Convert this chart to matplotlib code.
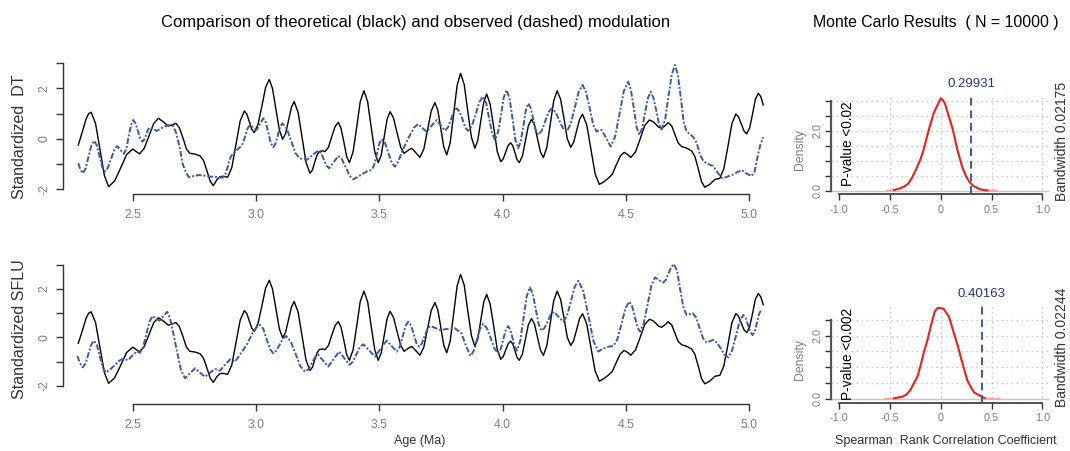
import numpy as np
import matplotlib
matplotlib.use("Agg")
import matplotlib.pyplot as plt

plt.rcParams["font.family"] = ["Liberation Sans", "DejaVu Sans"]

# theoretical modulation (black), same in both panels -- (age Ma, standardized value)
theo = [
    (2.278, -0.24), (2.295, 0.30), (2.310, 0.80), (2.320, 1.00), (2.330, 1.06),
    (2.348, 0.62), (2.366, -0.42), (2.384, -1.45), (2.401, -1.89),
    (2.425, -1.67), (2.450, -1.15), (2.474, -0.62), (2.499, -0.40), (2.526, -0.59),
    (2.545, -0.38), (2.565, 0.12), (2.584, 0.61), (2.603, 0.82), (2.623, 0.68),
    (2.643, 0.51), (2.658, 0.55), (2.674, 0.62), (2.688, 0.45), (2.703, 0.03),
    (2.717, -0.40), (2.731, -0.57), (2.752, -0.60), (2.772, -0.67), (2.786, -0.85),
    (2.800, -1.26), (2.813, -1.67), (2.826, -1.85), (2.840, -1.62), (2.853, -1.49),
    (2.868, -1.48), (2.884, -1.52), (2.901, -1.13), (2.918, -0.20), (2.935, 0.72),
    (2.952, 1.11), (2.962, 0.98), (2.972, 0.68), (2.982, 0.38), (2.992, 0.25),
    (3.007, 0.57), (3.023, 1.30), (3.038, 2.04), (3.053, 2.36), (3.066, 2.00),
    (3.080, 1.18), (3.094, 0.35), (3.107, -0.01), (3.119, 0.21), (3.131, 0.74),
    (3.143, 1.26), (3.154, 1.48), (3.170, 1.05), (3.186, 0.06), (3.202, -0.93),
    (3.218, -1.36), (3.228, -1.23), (3.237, -0.93), (3.247, -0.63), (3.256, -0.50),
    (3.268, -0.47), (3.279, -0.50), (3.293, -0.33), (3.306, 0.08), (3.320, 0.49),
    (3.333, 0.66), (3.344, 0.42), (3.356, -0.14), (3.367, -0.70), (3.378, -0.94),
    (3.393, -0.51), (3.408, 0.49), (3.422, 1.48), (3.437, 1.91), (3.452, 1.48),
    (3.466, 0.49), (3.481, -0.51), (3.495, -0.94), (3.507, -0.64), (3.519, 0.07),
    (3.531, 0.78), (3.543, 1.08), (3.557, 0.83), (3.571, 0.26), (3.586, -0.32),
    (3.600, -0.57), (3.616, -0.45), (3.631, -0.37), (3.648, -0.55), (3.664, -0.73),
    (3.680, -0.40), (3.695, 0.36), (3.710, 1.11), (3.725, 1.44), (3.737, 1.13),
    (3.749, 0.41), (3.761, -0.32), (3.773, -0.63), (3.787, -0.15), (3.801, 0.99),
    (3.815, 2.12), (3.829, 2.60), (3.844, 2.15), (3.858, 1.12), (3.873, 0.08),
    (3.887, -0.37), (3.899, -0.05), (3.911, 0.71), (3.923, 1.46), (3.935, 1.78),
    (3.949, 1.38), (3.964, 0.44), (3.978, -0.50), (3.992, -0.90), (4.002, -0.79),
    (4.012, -0.53), (4.022, -0.26), (4.032, -0.15), (4.041, -0.27), (4.050, -0.55),
    (4.058, -0.82), (4.067, -0.94), (4.080, -0.68), (4.092, -0.08), (4.104, 0.52),
    (4.117, 0.78), (4.129, 0.55), (4.141, 0.02), (4.153, -0.51), (4.165, -0.74),
    (4.179, -0.34), (4.193, 0.59), (4.207, 1.51), (4.221, 1.91), (4.235, 1.57),
    (4.249, 0.79), (4.262, 0.01), (4.276, -0.33), (4.288, -0.13), (4.300, 0.33),
    (4.312, 0.78), (4.324, 0.98), (4.341, 0.56), (4.358, -0.41), (4.375, -1.38),
    (4.392, -1.80), (4.410, -1.70), (4.428, -1.56), (4.444, -1.41), (4.460, -1.05),
    (4.477, -0.68), (4.493, -0.53), (4.507, -0.62), (4.520, -0.73), (4.539, -0.51),
    (4.558, 0.01), (4.576, 0.53), (4.595, 0.75), (4.608, 0.70), (4.620, 0.60),
    (4.632, 0.47), (4.645, 0.42), (4.658, 0.52), (4.672, 0.65), (4.686, 0.51),
    (4.699, 0.18), (4.712, -0.16), (4.726, -0.30), (4.746, -0.36), (4.767, -0.48),
    (4.780, -0.70), (4.794, -1.20), (4.807, -1.70), (4.820, -1.91), (4.840, -1.80),
    (4.861, -1.60), (4.871, -1.58), (4.881, -1.56), (4.897, -1.18), (4.914, -0.29),
    (4.930, 0.61), (4.946, 0.99), (4.957, 0.87), (4.968, 0.60), (4.979, 0.32),
    (4.990, 0.20), (5.002, 0.44), (5.014, 1.00), (5.025, 1.57), (5.037, 1.81),
    (5.047, 1.68), (5.057, 1.35),
]

# observed DT (dashed)
obs_dt = [
    (2.278, -0.96), (2.287, -1.22), (2.296, -1.36), (2.308, -1.17), (2.319, -0.72),
    (2.331, -0.26), (2.342, -0.07), (2.353, -0.25), (2.364, -0.68), (2.375, -1.11),
    (2.386, -1.29), (2.398, -1.14), (2.411, -0.79), (2.424, -0.43), (2.436, -0.28),
    (2.450, -0.44), (2.463, -0.59), (2.473, -0.39), (2.482, 0.08), (2.492, 0.55),
    (2.501, 0.75), (2.510, 0.62), (2.520, 0.32), (2.529, 0.02), (2.538, -0.11),
    (2.546, -0.02), (2.554, 0.18), (2.561, 0.37), (2.569, 0.46), (2.583, 0.39),
    (2.596, 0.32), (2.620, 0.45), (2.643, 0.55), (2.663, 0.51), (2.675, 0.25),
    (2.690, -0.36), (2.701, -0.97), (2.711, -1.23), (2.720, -1.42), (2.728, -1.52),
    (2.748, -1.46), (2.769, -1.43), (2.788, -1.45), (2.806, -1.49), (2.835, -1.50),
    (2.864, -1.53), (2.875, -1.39), (2.886, -1.05), (2.896, -0.71), (2.907, -0.57),
    (2.922, -0.43), (2.937, -0.30), (2.946, -0.17), (2.956, 0.13), (2.965, 0.42),
    (2.975, 0.55), (2.988, 0.45), (3.002, 0.36), (3.015, 0.60), (3.029, 0.82),
    (3.039, 0.65), (3.049, 0.25), (3.059, -0.16), (3.069, -0.33), (3.078, -0.19),
    (3.088, 0.15), (3.097, 0.48), (3.106, 0.62), (3.124, 0.41), (3.142, -0.08),
    (3.159, -0.56), (3.177, -0.77), (3.191, -0.80), (3.205, -0.83), (3.228, -0.64),
    (3.252, -0.46), (3.263, -0.56), (3.274, -0.81), (3.285, -1.06), (3.296, -1.16),
    (3.315, -0.91), (3.333, -0.67), (3.348, -0.81), (3.364, -1.14), (3.379, -1.46),
    (3.394, -1.60), (3.420, -1.45), (3.448, -1.29), (3.468, -1.23), (3.478, -1.05),
    (3.489, -0.62), (3.499, -0.19), (3.509, -0.01), (3.523, -0.17), (3.536, -0.56),
    (3.550, -0.94), (3.563, -1.10), (3.575, -0.92), (3.590, -0.54), (3.617, 0.03),
    (3.640, 0.45), (3.657, 0.59), (3.674, 0.44), (3.691, 0.29), (3.711, 0.52),
    (3.732, 0.75), (3.749, 0.54), (3.766, 0.33), (3.778, 0.46), (3.790, 0.77),
    (3.801, 1.08), (3.813, 1.21), (3.825, 1.08), (3.837, 0.77), (3.848, 0.45),
    (3.860, 0.32), (3.875, 0.52), (3.891, 1.00), (3.906, 1.48), (3.921, 1.68),
    (3.933, 1.42), (3.945, 0.82), (3.957, 0.22), (3.969, -0.04), (3.981, 0.26),
    (3.993, 0.95), (4.004, 1.64), (4.016, 1.94), (4.028, 1.59), (4.040, 0.79),
    (4.051, -0.02), (4.063, -0.37), (4.073, -0.10), (4.084, 0.52), (4.094, 1.14),
    (4.104, 1.41), (4.114, 1.22), (4.124, 0.79), (4.134, 0.35), (4.144, 0.16),
    (4.158, 0.32), (4.172, 0.69), (4.185, 1.05), (4.199, 1.21), (4.214, 1.07),
    (4.229, 0.75), (4.244, 0.43), (4.259, 0.29), (4.275, 0.57), (4.292, 1.22),
    (4.308, 1.86), (4.324, 2.14), (4.338, 1.86), (4.353, 1.22), (4.367, 0.57),
    (4.381, 0.29), (4.391, 0.34), (4.401, 0.36), (4.420, 0.03), (4.438, -0.30),
    (4.456, 0.09), (4.474, 0.99), (4.491, 1.88), (4.509, 2.27), (4.520, 1.95),
    (4.532, 1.22), (4.543, 0.48), (4.554, 0.16), (4.566, 0.42), (4.577, 1.02),
    (4.589, 1.61), (4.600, 1.87), (4.611, 1.65), (4.623, 1.13), (4.634, 0.60),
    (4.645, 0.38), (4.659, 0.76), (4.672, 1.66), (4.686, 2.55), (4.699, 2.93),
    (4.711, 2.53), (4.723, 1.61), (4.734, 0.69), (4.746, 0.29), (4.760, 0.20),
    (4.773, 0.07), (4.787, -0.15), (4.800, -0.60), (4.814, -0.88), (4.827, -0.96),
    (4.840, -1.02), (4.854, -1.07), (4.873, -1.35), (4.892, -1.56), (4.930, -1.43),
    (4.969, -1.23), (4.990, -1.37), (5.010, -1.47), (5.022, -1.30), (5.034, -0.70),
    (5.046, -0.20), (5.057, 0.07),
]

# observed SFLU (dashed)
obs_sflu = [
    (2.274, -0.76), (2.285, -1.05), (2.296, -1.23), (2.308, -1.07), (2.319, -0.68),
    (2.331, -0.29), (2.342, -0.13), (2.354, -0.33), (2.366, -0.79), (2.378, -1.25),
    (2.390, -1.45), (2.408, -1.31), (2.427, -1.13), (2.440, -0.99), (2.454, -0.90),
    (2.468, -0.90), (2.481, -0.93), (2.498, -0.74), (2.515, -0.58), (2.528, -0.63),
    (2.541, -0.40), (2.554, 0.13), (2.567, 0.66), (2.580, 0.89), (2.593, 0.79),
    (2.607, 0.69), (2.623, 0.88), (2.639, 1.06), (2.650, 0.80), (2.665, 0.10),
    (2.680, -0.65), (2.695, -1.35), (2.711, -1.68), (2.731, -1.48), (2.752, -1.27),
    (2.772, -1.45), (2.792, -1.62), (2.812, -1.46), (2.833, -1.30), (2.853, -1.37),
    (2.873, -1.13), (2.894, -0.90), (2.914, -1.00), (2.937, -0.66), (2.961, -0.31),
    (2.988, 0.24), (3.002, 0.42), (3.015, 0.52), (3.029, 0.35), (3.042, -0.06),
    (3.056, -0.48), (3.069, -0.65), (3.082, -0.54), (3.095, -0.30), (3.108, -0.05),
    (3.121, 0.06), (3.140, -0.16), (3.160, -0.68), (3.179, -1.19), (3.198, -1.41),
    (3.212, -1.31), (3.225, -1.07), (3.238, -0.82), (3.252, -0.72), (3.272, -0.96),
    (3.292, -1.20), (3.314, -0.89), (3.337, -0.58), (3.357, -0.85), (3.378, -1.13),
    (3.392, -1.00), (3.406, -0.70), (3.420, -0.41), (3.434, -0.28), (3.458, -0.53),
    (3.482, -0.79), (3.505, -0.46), (3.529, -0.13), (3.549, -0.35), (3.570, -0.58),
    (3.582, -0.40), (3.594, 0.03), (3.605, 0.46), (3.617, 0.65), (3.628, 0.50),
    (3.639, 0.13), (3.650, -0.23), (3.661, -0.38), (3.672, -0.25), (3.683, 0.05),
    (3.694, 0.34), (3.705, 0.47), (3.725, 0.40), (3.745, 0.31), (3.775, 0.35),
    (3.806, 0.38), (3.833, 0.17), (3.851, -0.35), (3.869, -0.76), (3.882, -0.56),
    (3.895, -0.10), (3.908, 0.36), (3.921, 0.56), (3.936, 0.38), (3.952, -0.05),
    (3.967, -0.47), (3.982, -0.65), (3.992, -0.48), (4.002, -0.09), (4.012, 0.30),
    (4.022, 0.47), (4.031, 0.32), (4.040, -0.03), (4.049, -0.39), (4.058, -0.54),
    (4.071, -0.15), (4.084, 0.76), (4.097, 1.68), (4.110, 2.07), (4.122, 1.80),
    (4.134, 1.17), (4.146, 0.55), (4.158, 0.28), (4.170, 0.40), (4.183, 0.67),
    (4.195, 0.94), (4.208, 1.06), (4.227, 0.85), (4.246, 0.65), (4.261, 0.90),
    (4.277, 1.50), (4.292, 2.09), (4.307, 2.34), (4.327, 1.90), (4.348, 0.88),
    (4.368, -0.14), (4.388, -0.58), (4.408, -0.45), (4.428, -0.38), (4.449, -0.35),
    (4.465, -0.08), (4.482, 0.56), (4.498, 1.21), (4.514, 1.48), (4.525, 1.29),
    (4.536, 0.86), (4.546, 0.43), (4.557, 0.24), (4.572, 0.58), (4.588, 1.36),
    (4.603, 2.14), (4.618, 2.48), (4.634, 2.37), (4.651, 2.26), (4.662, 2.38),
    (4.673, 2.65), (4.684, 2.91), (4.695, 3.03), (4.708, 2.72), (4.720, 1.98),
    (4.733, 1.25), (4.746, 0.93), (4.771, 1.00), (4.785, 0.82), (4.799, 0.40),
    (4.813, -0.03), (4.827, -0.21), (4.854, -0.10), (4.869, -0.21), (4.885, -0.46),
    (4.900, -0.71), (4.915, -0.82), (4.930, -0.56), (4.946, 0.05), (4.961, 0.67),
    (4.976, 0.93), (4.986, 0.81), (4.995, 0.52), (5.005, 0.22), (5.014, 0.10),
    (5.023, 0.26), (5.032, 0.63), (5.041, 0.99), (5.050, 1.16),
]

# Monte Carlo densities of Spearman rho
dens_dt_x = [-0.53, -0.46, -0.40, -0.36, -0.32, -0.28, -0.24, -0.20, -0.17, -0.14, -0.11, -0.07,
             -0.04, 0.00, 0.02, 0.04, 0.07, 0.10, 0.12, 0.16, 0.21, 0.25, 0.28, 0.32, 0.39,
             0.46, 0.55]
dens_dt_y = [0.00, 0.02, 0.08, 0.14, 0.24, 0.45, 0.74, 1.05, 1.36, 1.75, 2.13, 2.58,
             2.80, 3.08, 3.02, 2.91, 2.58, 2.25, 2.02, 1.41, 0.80, 0.47, 0.30, 0.16, 0.04,
             0.01, 0.00]
dens_sflu_x = [-0.55, -0.46, -0.38, -0.34, -0.30, -0.23, -0.20, -0.17, -0.13, -0.10, -0.06,
               -0.03, 0.00, 0.03, 0.08, 0.13, 0.17, 0.20, 0.26, 0.30, 0.33, 0.43, 0.50, 0.58]
dens_sflu_y = [0.00, 0.02, 0.07, 0.14, 0.28, 0.71, 1.05, 1.44, 1.88, 2.28, 2.76,
               2.88, 2.87, 2.84, 2.60, 2.07, 1.65, 1.28, 0.60, 0.35, 0.20, 0.03, 0.01, 0.00]

obs_rho = ["0.29931", "0.40163"]
p_values = ["P-value <0.02", "P-value <0.002"]
bandwidths = ["Bandwidth 0.02175", "Bandwidth 0.02244"]
ylabels = ["Standardized  DT", "Standardized SFLU"]

W, H = 1070, 451
BLUE = "#3a5aa8"
GRAY = "#7f7f7f"
DARK = "#333333"


def box(l, t, r, b):
    return [l / W, 1 - b / H, (r - l) / W, (b - t) / H]


fig = plt.figure(figsize=(W / 100, H / 100), dpi=100)

left_boxes = [box(63, 60.7, 778, 194), box(63, 261.1, 778, 403.7)]
left_ylims = [(-2.18, 3.10), (-2.73, 3.15)]
obs_series = [obs_dt, obs_sflu]
ylabel_y = [137, 329]
tx, ty = zip(*theo)

for i in range(2):
    ax = fig.add_axes(left_boxes[i])
    ax.plot(tx, ty, color="black", lw=1.0)
    ox, oy = zip(*obs_series[i])
    ax.plot(ox, oy, color=BLUE, lw=1.4, linestyle=(0, (3, 1, 1, 1)))
    ax.set_xlim(2.216, 5.117)
    ax.set_ylim(*left_ylims[i])
    for s in ["top", "right"]:
        ax.spines[s].set_visible(False)
    ax.spines["left"].set_bounds(-2, 3)
    ax.spines["bottom"].set_bounds(2.5, 5.0)
    for s in ["left", "bottom"]:
        ax.spines[s].set_color(DARK)
        ax.spines[s].set_linewidth(1.0)
    ax.set_xticks([2.5, 3.0, 3.5, 4.0, 4.5, 5.0])
    ax.set_xticklabels(["2.5", "3.0", "3.5", "4.0", "4.5", "5.0"])
    ax.set_yticks([-2, -1, 0, 1, 2, 3])
    ax.set_yticklabels(["-2", "", "0", "", "2", ""], rotation=90, va="center")
    ax.tick_params(axis="both", colors=DARK, labelcolor=GRAY, labelsize=8.8,
                   length=5, width=1.0)
    ax.tick_params(axis="x", pad=6)
    ax.tick_params(axis="y", pad=4)
    fig.text(20 / W, 1 - ylabel_y[i] / H, ylabels[i], rotation=90, ha="center",
             va="center", fontsize=11.5, color=DARK)

right_boxes = [box(831.2, 94.7, 1050.4, 194.3), box(831.2, 304, 1050.4, 402.7)]
right_ylims = [(-0.12, 3.2), (-0.117, 3.0)]
right_ytop = [3.0, 2.5]
dens = [(dens_dt_x, dens_dt_y), (dens_sflu_x, dens_sflu_y)]
rho_vals = [0.29931, 0.40163]
text_centers = [(84, 144, 141, 150), (294, 354, 347, 360)]

for i in range(2):
    ax = fig.add_axes(right_boxes[i])
    ax.set_xlim(-1.08, 1.08)
    ax.set_ylim(*right_ylims[i])
    yt = np.arange(0, right_ytop[i] + 0.01, 0.5)
    for yv in yt:
        ax.axhline(yv, color="#bbbbbb", lw=0.9, linestyle=(0, (1, 3)), zorder=1)
    for xv in [-0.5, 0.0, 0.5, 1.0]:
        ax.axvline(xv, color="#bbbbbb", lw=0.9, linestyle=(0, (1, 3)), zorder=1)
    ax.axhline(0, color="#c8c8c8", lw=1.0, zorder=1.5)
    dx = np.array(dens[i][0])
    dy = np.array(dens[i][1])
    ax.plot(dx, dy, color="#f4a6a6", lw=1.4, zorder=2)
    idx = np.where(dy >= 0.04)[0]
    ax.plot(dx[idx[0] - 1:idx[-1] + 2], dy[idx[0] - 1:idx[-1] + 2], color="#e3241d",
            lw=1.4, zorder=3)
    ax.axvline(rho_vals[i], ymin=0, ymax=1, color=BLUE, lw=1.4,
               linestyle=(0, (4, 2.5)), zorder=4)
    for s in ["top", "right"]:
        ax.spines[s].set_visible(False)
    ax.spines["left"].set_bounds(0, right_ytop[i])
    ax.spines["bottom"].set_bounds(-1, 1)
    ax.spines["left"].set_color("#555555")
    ax.spines["left"].set_linewidth(1.6)
    ax.spines["bottom"].set_color(DARK)
    ax.spines["bottom"].set_linewidth(1.2)
    ax.set_xticks([-1.0, -0.5, 0.0, 0.5, 1.0])
    ax.set_xticklabels(["-1.0", "-0.5", "0", "0.5", "1.0"])
    ax.set_yticks(yt)
    ax.set_yticklabels(["0.0" if v == 0 else ("2.0" if v == 2 else "") for v in yt],
                       rotation=90, va="center")
    ax.tick_params(axis="both", colors=DARK, labelcolor=GRAY, labelsize=7.8,
                   length=4, width=1.0)
    ax.tick_params(axis="y", pad=2)

    t_rho, t_p, t_bw, t_den = text_centers[i]
    rho_px = 940.8 + rho_vals[i] * 101.5
    fig.text(rho_px / W, 1 - t_rho / H, obs_rho[i], ha="center", va="center",
             fontsize=9.5, color="#26377a")
    fig.text(848 / W, 1 - t_p / H, p_values[i], rotation=90, ha="center",
             va="center", fontsize=9.8, color="black")
    fig.text(1062 / W, 1 - t_bw / H, bandwidths[i], rotation=90, ha="center",
             va="center", fontsize=10, color=DARK)
    fig.text(800 / W, 1 - t_den / H, "Density", rotation=90, ha="center",
             va="center", fontsize=8.8, color=GRAY)

fig.text(416 / W, 1 - 22 / H,
         "Comparison of theoretical (black) and observed (dashed) modulation",
         ha="center", va="center", fontsize=12, color="black")
fig.text(936 / W, 1 - 22 / H, "Monte Carlo Results  ( N = 10000 )",
         ha="center", va="center", fontsize=11.4, color="black")
fig.text(420 / W, 1 - 441 / H, "Age (Ma)", ha="center", va="center",
         fontsize=9, color=DARK)
fig.text(946 / W, 1 - 441 / H, "Spearman  Rank Correlation Coefficient",
         ha="center", va="center", fontsize=9, color=DARK)

fig.savefig("out.png", dpi=100)
